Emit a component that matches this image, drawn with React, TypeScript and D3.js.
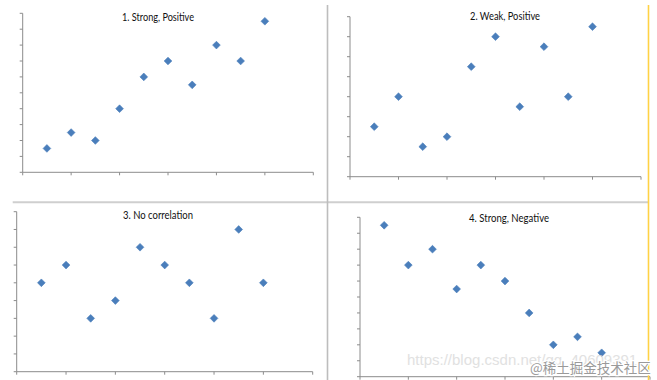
import React from "react";
import * as d3 from "d3";

// ---- data ----
const xValues = [1, 2, 3, 4, 5, 6, 7, 8, 9, 10];
const strongPositive = [1.5, 2.5, 2, 4, 6, 7, 5.5, 8, 7, 9.5];
const weakPositive = [2.5, 4, 1.5, 2, 5.5, 7, 3.5, 6.5, 4, 7.5];
const noCorrelation = [5, 6, 3, 4, 7, 6, 5, 3, 8, 5];
const strongNegative = [9.5, 7, 8, 5.5, 7, 6, 4, 2, 2.5, 1.5];
const titles = ["1. Strong, Positive", "2. Weak, Positive", "3. No correlation", "4. Strong, Negative"];
const yMaxes = [10, 8, 9, 10];
const xMax = 12;
const xTickStep = 2;
const series = [strongPositive, weakPositive, noCorrelation, strongNegative];

// ---- layout (pixel frames of each plot area) ----
const frames = [
  { x0: 22.7, x1: 313.3, y0: 13.3, y1: 172.3, tx: 158, ty: 20.5, tw: 72 },
  { x0: 350, x1: 641, y0: 16.7, y1: 176.7, tx: 505, ty: 19.5, tw: 70 },
  { x0: 16.7, x1: 312.7, y0: 211.7, y1: 371.7, tx: 158, ty: 218.5, tw: 70 },
  { x0: 360, x1: 650, y0: 217.3, y1: 376.7, tx: 509, ty: 221.5, tw: 80 },
];

const AXIS = "#8c8c8c";
const MARK = "#4a7ebb";

function Panel({ i }: { i: number }) {
  const f = frames[i];
  const x = d3.scaleLinear().domain([0, xMax]).range([f.x0, f.x1]);
  const y = d3.scaleLinear().domain([0, yMaxes[i]]).range([f.y1, f.y0]);
  const xt = d3.range(0, xMax + 0.001, xTickStep);
  const yt = d3.range(0, yMaxes[i] + 0.001, 1);
  const diamond = d3.symbol().type(d3.symbolDiamond2).size(38)();
  return (
    <g>
      <line x1={f.x0} x2={f.x0} y1={f.y0} y2={f.y1} stroke={AXIS} strokeWidth={1} />
      <line x1={f.x0} x2={f.x1} y1={f.y1} y2={f.y1} stroke={AXIS} strokeWidth={1} />
      {yt.map((t) => (
        <line key={"y" + t} x1={f.x0 - 3} x2={f.x0} y1={y(t)} y2={y(t)} stroke={AXIS} strokeWidth={1} />
      ))}
      {xt.map((t) => (
        <line key={"x" + t} x1={x(t)} x2={x(t)} y1={f.y1} y2={f.y1 + 3} stroke={AXIS} strokeWidth={1} />
      ))}
      <text
        x={f.tx}
        y={f.ty}
        textAnchor="middle"
        fontFamily="Lato, 'Open Sans', sans-serif"
        fontSize={10.5}
        fill="#111"
        textLength={f.tw}
        lengthAdjust="spacingAndGlyphs"
      >
        {titles[i]}
      </text>
      {series[i].map((v, k) => (
        <path
          key={k}
          d={diamond || ""}
          transform={`translate(${x(xValues[k])},${y(v)})`}
          fill={MARK}
          stroke={MARK}
          strokeWidth={0.6}
          strokeLinejoin="round"
        />
      ))}
    </g>
  );
}

export default function App() {
  return (
    <svg
      width={657}
      height={380}
      style={{ position: "absolute", left: 0, top: 0, background: "#fff" }}
    >
      <rect width={657} height={380} fill="#fff" />
      {[0, 1, 2, 3].map((i) => (
        <Panel key={i} i={i} />
      ))}
      {/* separators */}
      <line x1={12.7} x2={648} y1={202.2} y2={202.2} stroke="#cfcfcf" strokeWidth={2} />
      <line x1={327.5} x2={327.5} y1={5} y2={380} stroke="#bdbdbd" strokeWidth={1.6} />
      <line x1={648.5} x2={648.5} y1={5} y2={380} stroke="#ffd245" strokeWidth={1.6} />
      {/* watermark */}
      <text x={407} y={365} fontFamily="'Liberation Sans', Arial, sans-serif" fontSize={15} fill="#dcdcdc" opacity={0.85}>
        https://blog.csdn.net/qq_40609391
      </text>
      <text
        x={530}
        y={373}
        fontFamily="'Noto Sans CJK SC', sans-serif"
        fontSize={13.5}
        fill="#9a9a9a"
        stroke="#fff"
        strokeWidth={2.5}
        paintOrder="stroke"
      >
        @稀土掘金技术社区
      </text>
    </svg>
  );
}
